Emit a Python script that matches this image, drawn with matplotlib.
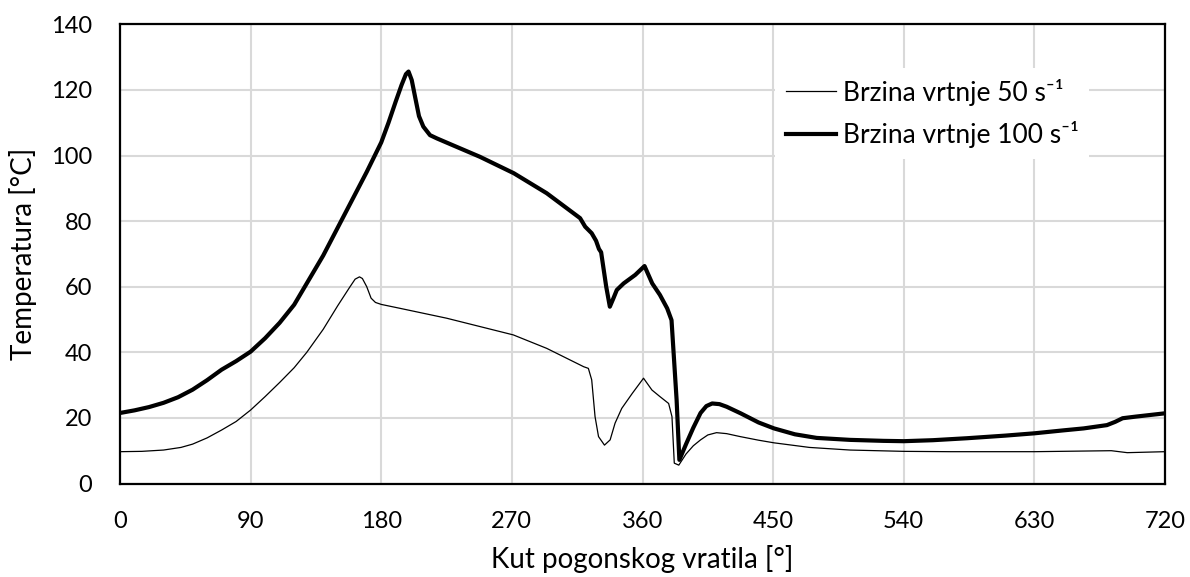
import numpy as np
import matplotlib.pyplot as plt

# crank angle [deg] and temperature [degC]
angle_50 = [0, 15, 30, 42, 50, 60, 70, 80, 90, 100, 110, 120, 128.7, 140, 150, 158.5,
            162, 165, 167, 170, 173, 176, 180, 193, 225, 271, 294, 319.5, 322.7,
            325, 327.3, 329.7, 333.8, 337.7, 341.1, 345.7, 353, 360.7, 366.5, 372,
            378, 380.3, 381.9, 385, 390, 395, 400, 405, 411, 418, 427.3, 440,
            450.6, 475, 503, 540, 572, 630, 683, 694, 720]
temp_50 = [9.7, 9.8, 10.2, 11, 12, 13.9, 16.3, 18.9, 22.4, 26.5, 30.8, 35.3, 40, 47,
           54.2, 60, 62.3, 63, 62.5, 60, 56.5, 55.2, 54.6, 53.4, 50.4, 45.3, 41.2,
           35.6, 35.1, 31.6, 20.4, 14.3, 11.7, 13.3, 18.4, 22.9, 27.5, 32.1, 28.5,
           26.5, 24.4, 20.4, 6.2, 5.6, 9, 11.5, 13.3, 14.8, 15.5, 15.2, 14.3, 13.2,
           12.4, 11, 10.2, 9.8, 9.7, 9.7, 10, 9.4, 9.7]

angle_100 = [0, 10, 20, 30, 40, 50, 60, 70, 80, 90, 100, 110, 120, 130, 140, 150, 160,
             170, 180, 185, 190, 194, 197, 198.8, 201, 203.3, 206, 209, 213.6, 218.4,
             230, 248, 271.3, 294, 317, 320.5, 325, 328, 330, 331.5, 335, 337.5,
             340, 342.3, 347, 355, 361.4, 366.7, 372, 377, 380, 383.5, 385.4, 390,
             395, 400, 404, 408, 413, 418, 427.6, 440, 450.6, 465, 480, 503, 526,
             540, 560, 583.5, 610, 630, 650, 664, 680, 685.7, 690.8, 700, 720]
temp_100 = [21.5, 22.3, 23.3, 24.6, 26.3, 28.6, 31.5, 34.7, 37.3, 40.2, 44.3, 49, 54.5,
            62, 69.5, 78, 86.5, 95, 104, 110, 116.5, 121.5, 124.8, 125.6, 123, 117.9,
            112, 108.8, 106.2, 105.2, 103, 99.6, 94.6, 88.5, 80.9, 78.3, 76.3, 74,
            71.5, 70.5, 60, 53.9, 56.5, 59, 61, 63.6, 66.3, 61, 57.5, 53.4, 49.8,
            25.5, 7.2, 12, 17, 21.5, 23.6, 24.4, 24.2, 23.4, 21.4, 18.6, 16.8, 15,
            13.9, 13.3, 13, 12.9, 13.2, 13.8, 14.6, 15.3, 16.2, 16.8, 17.8, 18.8,
            19.9, 20.4, 21.4]

labels = ["Brzina vrtnje 50 s\u207b\u00b9", "Brzina vrtnje 100 s\u207b\u00b9"]
x_ticks = list(range(0, 721, 90))
y_ticks = list(range(0, 141, 20))

plt.rcParams['font.family'] = ['Lato', 'DejaVu Sans']
plt.rcParams['font.size'] = 17

fig = plt.figure(figsize=(11.9, 5.77), dpi=100)
ax = fig.add_axes([120 / 1190, 1 - 483.5 / 577, 1045 / 1190, 459.2 / 577])

ax.plot(angle_50, temp_50, color='black', linewidth=0.9, label=labels[0])
ax.plot(angle_100, temp_100, color='black', linewidth=3.0, label=labels[1])

ax.set_xlim(0, 720)
ax.set_ylim(0, 140)
ax.set_xticks(x_ticks)
ax.set_yticks(y_ticks)
ax.grid(True, color='#d9d9d9', linewidth=1.5)
ax.set_axisbelow(True)
ax.tick_params(length=0, pad=20)
for sp in ax.spines.values():
    sp.set_linewidth(1.6)
    sp.set_color('black')

ax.set_xlabel("Kut pogonskog vratila [\u00b0]", fontsize=20, labelpad=9)
ax.set_ylabel("Temperatura [\u00b0C]", fontsize=20, labelpad=10)

leg = ax.legend(loc='upper left', bbox_to_anchor=(775 / 1190, 1 - 68 / 577),
                bbox_transform=fig.transFigure, frameon=True, framealpha=1,
                edgecolor='none', facecolor='white', fancybox=False, fontsize=19,
                handlelength=1.9, handletextpad=0.27, labelspacing=0.6,
                borderpad=0.4, borderaxespad=0)

fig.savefig('out.png', dpi=100)
